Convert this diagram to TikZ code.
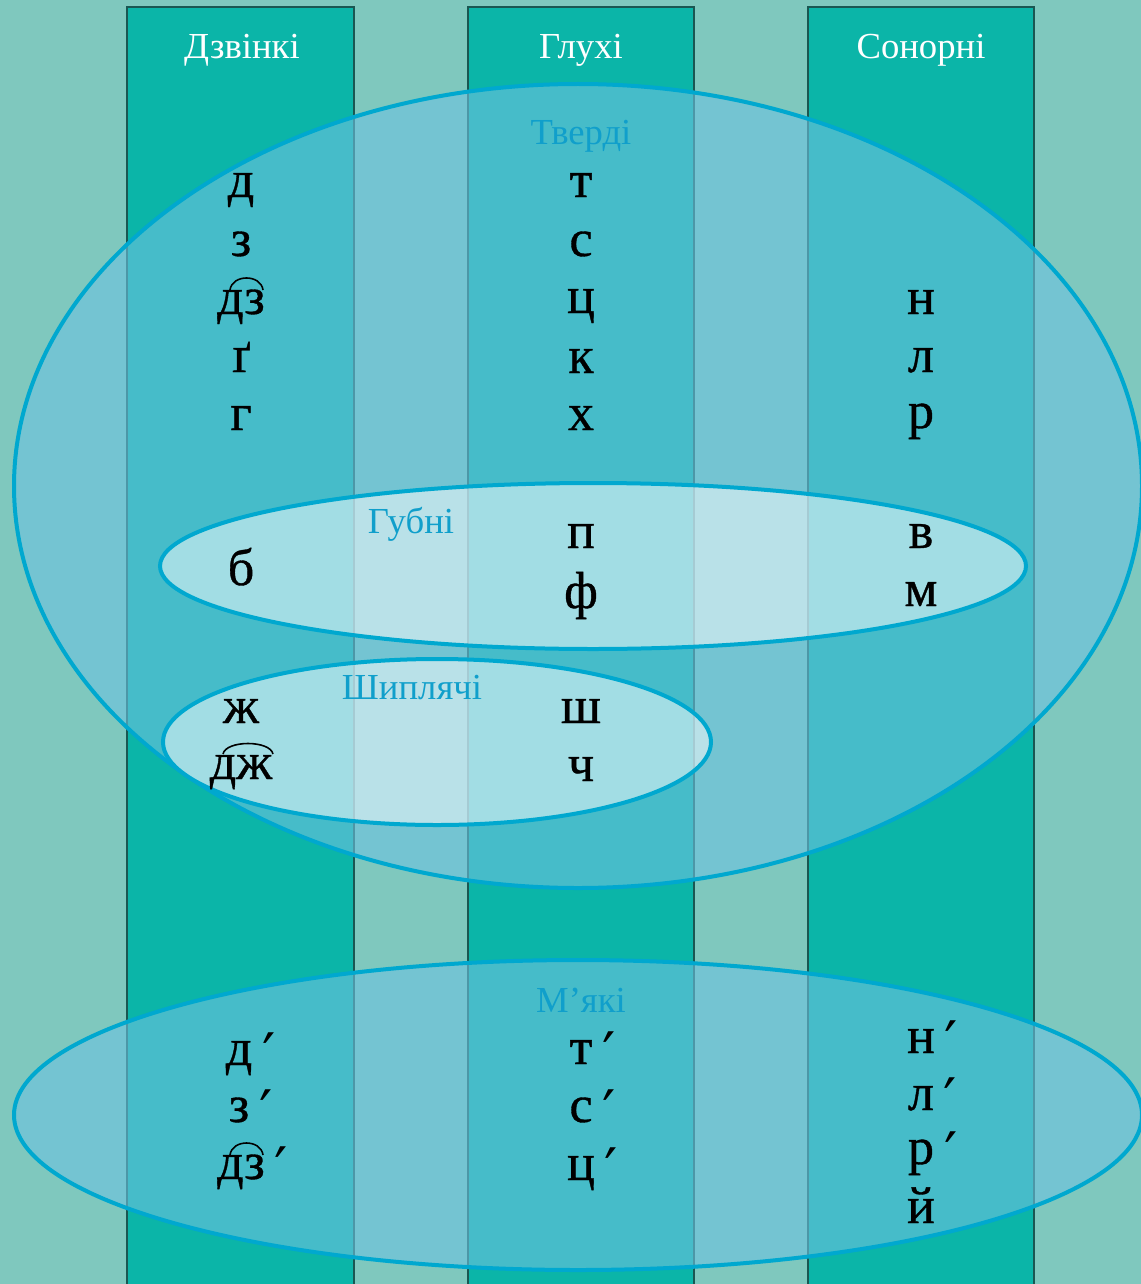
\documentclass[tikz,border=0pt]{standalone}
\usepackage{fontspec}
\setmainfont{Liberation Serif}
\newfontfamily\primefont{DejaVu Serif}
\newfontfamily\letterfont[FakeBold=0.7]{Liberation Serif}
\usetikzlibrary{calc}
\definecolor{bg}{HTML}{7FC8BE}
\definecolor{colfill}{HTML}{0BB5A8}
\definecolor{colborder}{HTML}{1A5752}
\definecolor{ellfill}{HTML}{6EC2E0}
\definecolor{ellline}{HTML}{00A8CF}
\definecolor{labcol}{HTML}{109FCB}
\newcommand{\pr}{\rlap{\hspace{7.5pt}\smash{\raisebox{-8pt}{\primefont\fontsize{44}{46}\selectfont ′}}}}
\begin{document}
\begin{tikzpicture}[x=0.75pt,y=-0.75pt,
  column/.style={fill=colfill,draw=colborder,line width=0.8pt},
  bigell/.style={fill=ellfill,fill opacity=0.6,draw=ellline,line width=3pt},
  smallell/.style={fill=white,fill opacity=0.5,draw=ellline,line width=3pt},
  head/.style={text=white,font=\fontsize{27.5}{30}\selectfont,anchor=base,inner sep=0pt},
  labtext/.style={text=labcol,font=\fontsize{27.5}{30}\selectfont,anchor=base,inner sep=0pt},
  ltr/.style={text=black,font=\letterfont\fontsize{39}{42}\selectfont,anchor=base,inner sep=0pt},
  tie/.style={draw=black,line width=1.2pt}]
\useasboundingbox (0,0) rectangle (1141,1284);
\fill[bg] (0,0) rectangle (1141,1284);
% columns
\draw[column] (127,7) rectangle (354,1300);
\draw[column] (468,7) rectangle (694,1300);
\draw[column] (808,7) rectangle (1034,1300);
% headers
\node[head] (h1) at (242,59) {Дзвінкі};
\node[head] (h2) at (581,59) {Глухі};
\node[head] (h3) at (921,59) {Сонорні};
% ellipses
\draw[bigell] (578,486) ellipse [x radius=564, y radius=402];
\draw[bigell] (578,1115) ellipse [x radius=564, y radius=155];
\draw[smallell] (593,566) ellipse [x radius=433, y radius=83];
\draw[smallell] (437,742) ellipse [x radius=274, y radius=83];
% labels
\node[labtext] (tv) at (581,145) {Тверді};
\node[labtext] (gb) at (411,533) {Губні};
\node[labtext] (sh) at (412,699) {Шиплячі};
\node[labtext] (mk) at (581,1012) {М’які};
% column 1
\node[ltr] (d) at (241,197) {д};
\node[ltr] (z) at (241,256) {з};
\node[ltr] (dz) at (241,314) {дз};
\node[ltr] (gg) at (241,372) {ґ};
\node[ltr] (g) at (241,430) {г};
\node[ltr] (b) at (241,585) {б};
\node[ltr] (zh) at (241,723) {ж};
\node[ltr] (dzh) at (241,779) {дж};
% column 2
\node[ltr] (t) at (581,197) {т};
\node[ltr] (s) at (581,256) {с};
\node[ltr] (c) at (581,313) {ц};
\node[ltr] (k) at (581,373) {к};
\node[ltr] (x) at (581,430) {х};
\node[ltr] (p) at (581,548) {п};
\node[ltr] (f) at (581,608) {ф};
\node[ltr] (shh) at (581,723) {ш};
\node[ltr] (ch) at (581,781) {ч};
% column 3
\node[ltr] (n) at (921,314) {н};
\node[ltr] (l) at (921,372) {л};
\node[ltr] (r) at (921,428) {р};
\node[ltr] (v) at (921,548) {в};
\node[ltr] (m) at (921,606) {м};
% soft
\node[ltr] (ds) at (239,1065) {д\pr};
\node[ltr] (zs) at (239,1122) {з\pr};
\node[ltr] (dzs) at (241,1179) {дз\pr};
\node[ltr] (ts) at (581,1064) {т\pr};
\node[ltr] (ss) at (581,1122) {с\pr};
\node[ltr] (cs) at (581,1180) {ц\pr};
\node[ltr] (ns) at (921,1053) {н\pr};
\node[ltr] (ls) at (921,1110) {л\pr};
\node[ltr] (rs) at (921,1164) {р\pr};
\node[ltr] (j) at (921,1223) {й};
% ties
\draw[tie] ($(dz.base)+(-11,-24)$) .. controls ($(dz.base)+(-9,-40)$) and ($(dz.base)+(20,-40)$) .. ($(dz.base)+(22,-24)$);
\draw[tie] ($(dzs.base)+(-11,-24)$) .. controls ($(dzs.base)+(-9,-40)$) and ($(dzs.base)+(20,-40)$) .. ($(dzs.base)+(22,-24)$);
\draw[tie] ($(dzh.base)+(-18,-25)$) .. controls ($(dzh.base)+(-15,-39)$) and ($(dzh.base)+(29,-39)$) .. ($(dzh.base)+(32,-25)$);
\end{tikzpicture}
\end{document}
